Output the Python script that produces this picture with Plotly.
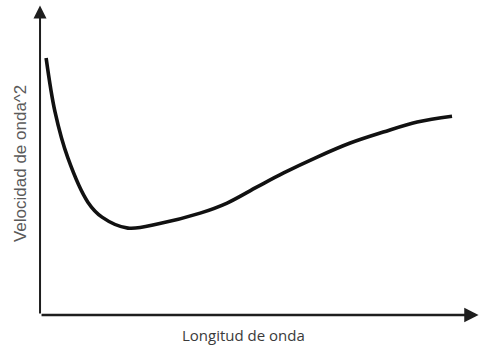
import plotly.graph_objects as go

# Dispersion curve: squared wave speed against wavelength (qualitative units)
wavelength = [1.4, 3.45, 6.4, 11.0, 14.25, 20.2, 27.5, 36.8, 43.0, 49.9, 56.0, 63.7,
              71.3, 78.9, 86.7, 94.7]
speed_sq = [84.3, 66.6, 51.5, 37.0, 32.1, 28.5, 30.0, 33.4, 36.7, 42.0, 46.6, 51.8,
            56.4, 60.0, 63.3, 65.2]

x_label = "Longitud de onda"
y_label = "Velocidad de onda^2"

fig = go.Figure()
fig.add_trace(go.Scatter(
    x=wavelength, y=speed_sq, mode="lines",
    line=dict(color="#111111", width=3.6, shape="spline", smoothing=1.0),
    hoverinfo="skip", showlegend=False,
))

# Axis arrows drawn from the origin
axis_color = "#1e1e1e"
fig.add_annotation(x=0, y=101.5, ax=0, ay=0, xref="x", yref="y", axref="x", ayref="y",
                   text="", showarrow=True, arrowhead=2, arrowsize=1.3, arrowwidth=2,
                   arrowcolor=axis_color)
fig.add_annotation(x=100.8, y=0, ax=0, ay=0, xref="x", yref="y", axref="x", ayref="y",
                   text="", showarrow=True, arrowhead=2, arrowsize=1.1, arrowwidth=2.6,
                   arrowcolor=axis_color)

# Axis titles
fig.add_annotation(x=46.7, y=-6.5, xref="x", yref="y", text=x_label, showarrow=False,
                   font=dict(family="Open Sans", size=15, color="#3a3a3a"))
fig.add_annotation(x=-4.6, y=49.5, xref="x", yref="y", text=y_label, showarrow=False,
                   textangle=-90, font=dict(family="Liberation Sans", size=17, color="#5a5a5a"))

fig.update_layout(
    width=479, height=345,
    margin=dict(l=0, r=0, t=0, b=0),
    paper_bgcolor="white", plot_bgcolor="white",
    xaxis=dict(range=[-9.2, 100.9], visible=False, fixedrange=True),
    yaxis=dict(range=[-9.84, 103.3], visible=False, fixedrange=True),
)

fig.write_html("out.html")
